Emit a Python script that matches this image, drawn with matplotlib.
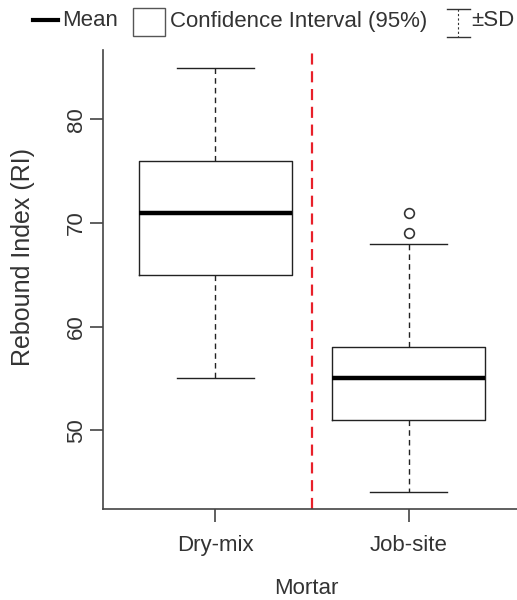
import matplotlib
matplotlib.use("Agg")
import matplotlib.pyplot as plt
from matplotlib.patches import Rectangle
from matplotlib.lines import Line2D

plt.rcParams['font.family'] = ['Liberation Sans', 'DejaVu Sans']

categories = ["Dry-mix", "Job-site"]
medians = [71, 55]
q1 = [65, 51]
q3 = [76, 58]
whislo = [55, 44]
whishi = [85, 68]
outliers = [[], [69, 71]]
yticks = [50, 60, 70, 80]

FS = 16
TXT = '#333333'

fig = plt.figure(figsize=(5.17, 6.0), dpi=100)
ax = fig.add_axes([103/517, 1-509/600, (517-103)/517, (509-50)/600])

stats = []
for i, c in enumerate(categories):
    stats.append(dict(label=c, med=medians[i], q1=q1[i], q3=q3[i],
                      whislo=whislo[i], whishi=whishi[i], fliers=outliers[i]))

ax.bxp(stats, positions=[1, 2], widths=0.79, showfliers=True,
       boxprops=dict(color='#222222', linewidth=1.0),
       medianprops=dict(color='black', linewidth=3.2),
       whiskerprops=dict(color='#222222', linewidth=1.0, linestyle=(0, (4, 3))),
       capprops=dict(color='#222222', linewidth=1.0),
       capwidths=0.40,
       flierprops=dict(marker='o', markersize=7, markerfacecolor='white',
                       markeredgecolor='#333333', markeredgewidth=1.2))

ax.axvline(1.5, color='#e8202a', linestyle=(0, (5, 3)), linewidth=1.6)

ax.set_xlim(0.42, 2.56)
ax.set_ylim(42.4, 86.7)
ax.set_xticks([1, 2])
ax.set_xticklabels(categories, fontsize=FS, color=TXT)
ax.set_yticks(yticks)
ax.set_yticklabels([str(v) for v in yticks], fontsize=FS, color=TXT,
                   rotation=90, va='center')
for s in ['top', 'right']:
    ax.spines[s].set_visible(False)
for s in ['left', 'bottom']:
    ax.spines[s].set_color('#444444')
    ax.spines[s].set_linewidth(1.2)
ax.tick_params(axis='both', length=9.5, width=1.2, color='#444444')
ax.tick_params(axis='y', pad=2)
ax.tick_params(axis='x', pad=9)
ax.set_ylabel("Rebound Index (RI)", fontsize=18, color=TXT)
ax.yaxis.set_label_coords((35-103)/(517-103), (509-257)/(509-50))
ax.set_xlabel("Mortar", fontsize=FS, color=TXT)
ax.xaxis.set_label_coords((306-103)/(517-103), -(578-509)/(509-50))

# Legend drawn at figure level
def fx(px): return px/517
def fy(py): return 1 - py/600
fig.add_artist(Line2D([fx(33), fx(58)], [fy(20), fy(20)], color='black', linewidth=3))
fig.text(fx(62), fy(21), "Mean", fontsize=FS, color=TXT, va='center', ha='left')
fig.add_artist(Rectangle((fx(133), fy(36)), fx(165)-fx(133), fy(8)-fy(36),
                         fill=False, edgecolor='#555555', linewidth=1.0,
                         transform=fig.transFigure))
fig.text(fx(170), fy(21), "Confidence Interval (95%)", fontsize=FS, color=TXT,
         va='center', ha='left')
fig.add_artist(Line2D([fx(447), fx(470)], [fy(9), fy(9)], color='#333333', linewidth=1.0))
fig.add_artist(Line2D([fx(447), fx(470)], [fy(37), fy(37)], color='#333333', linewidth=1.0))
fig.add_artist(Line2D([fx(458), fx(458)], [fy(9), fy(37)], color='#333333', linewidth=0.8,
                      linestyle=(0, (2, 2))))
fig.text(fx(471), fy(21), "±SD", fontsize=FS, color=TXT, va='center', ha='left')

fig.savefig("out.png", dpi=100, facecolor='white')
